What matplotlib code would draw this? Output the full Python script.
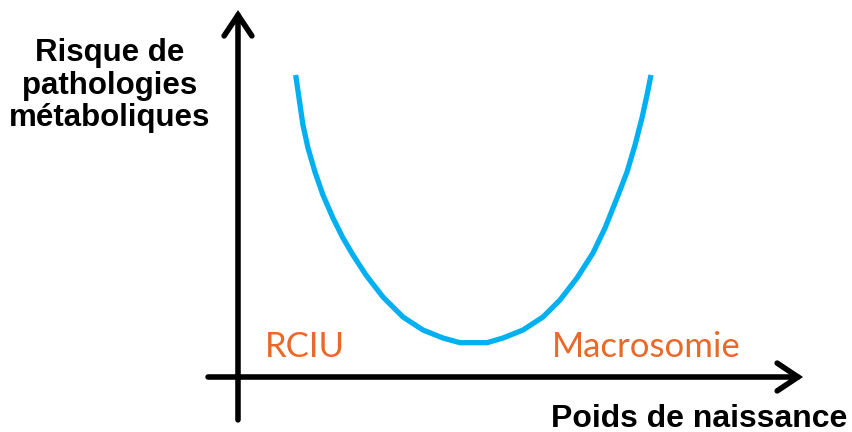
import numpy as np
import matplotlib
matplotlib.use('Agg')
import matplotlib.pyplot as plt
from matplotlib.patches import FancyArrowPatch

# courbe en U : poids de naissance (unites arbitraires) vs risque
poids = [10.21, 10.80, 11.50, 12.39, 13.63, 15.04, 16.81, 18.58, 20.35,
         22.65, 25.66, 29.20, 32.74, 36.28, 39.29, 44.07, 46.90, 50.44,
         53.98, 56.99, 60.00, 62.83, 64.96, 67.08, 68.85, 70.27, 71.50,
         72.39, 73.10]
risque = [100.0, 92.38, 83.44, 75.83, 67.88, 60.26, 52.65, 46.03, 40.40,
          33.77, 26.49, 19.87, 15.56, 12.91, 11.36, 11.36, 12.91, 15.56,
          19.87, 25.50, 32.78, 41.06, 49.34, 59.27, 67.88, 76.82, 85.76,
          93.38, 100.0]

ylabel = 'Risque de\npathologies\nmétaboliques'
xlabel = 'Poids de naissance'
zones = ['RCIU', 'Macrosomie']
zones_x = [4.8, 55.6]

fig = plt.figure(figsize=(8.52, 4.32), dpi=100)
ax = fig.add_axes([0, 0, 1, 1])
ax.axis('off')
ax.set_xlim(-42.12, 108.67)
ax.set_ylim(-18.21, 124.83)

ax.plot(poids, risque, color='#00B0F0', lw=3.8, solid_joinstyle='round',
        solid_capstyle='butt')

# axes fleches
style = '->,head_length=0.75,head_width=0.5'
ax.add_patch(FancyArrowPatch((0, -14.2), (0, 121.5), arrowstyle=style,
                             mutation_scale=20, lw=4, color='black',
                             shrinkA=0, shrinkB=0, joinstyle='miter'))
ax.add_patch(FancyArrowPatch((-5.3, 0), (100, 0), arrowstyle=style,
                             mutation_scale=20, lw=4, color='black',
                             shrinkA=0, shrinkB=0, joinstyle='miter'))

ax.text(-22.7, 96.5, ylabel, ha='center', va='center', fontsize=22.5,
        fontweight='bold', family='Liberation Sans', linespacing=1.12)
ax.text(107.9, -13.8, xlabel, ha='right', va='center', fontsize=23,
        fontweight='bold', family='Liberation Sans')

for z, x in zip(zones, zones_x):
    ax.text(x, 6.6, z, ha='left', va='baseline', fontsize=25,
            color='#E8692A', family='Lato')

fig.savefig('out.png', dpi=100)
